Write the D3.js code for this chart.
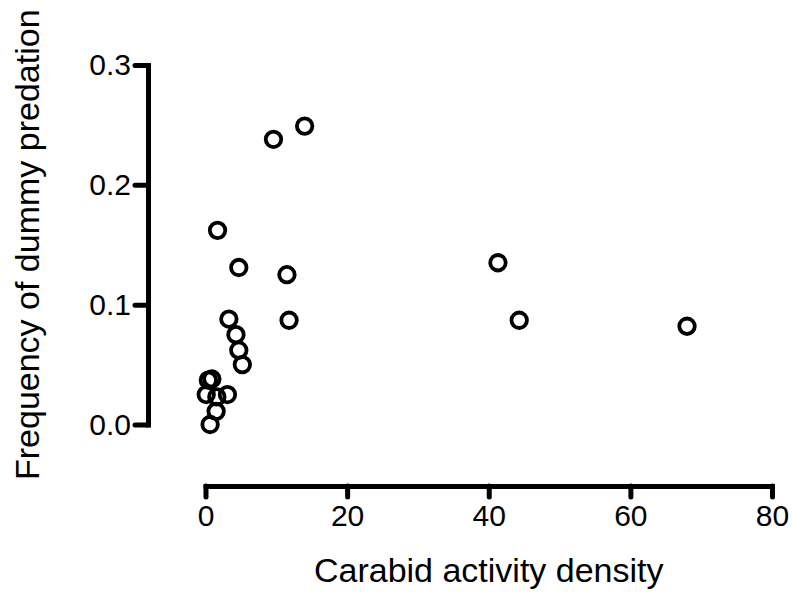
<!DOCTYPE html>
<html>
<head>
<meta charset="utf-8">
<script src="https://cdn.jsdelivr.net/npm/d3@7"></script>
<style>
  body { margin: 0; background: #fff; }
  text { font-family: "Liberation Sans", Arial, sans-serif; fill: #000; }
</style>
</head>
<body>
<div id="chart"></div>
<script>
// data
carabid = [9.6, 14.0, 1.7, 4.7, 11.5, 11.8, 3.3, 4.3, 4.7, 5.2, 0.4, 0.9, 0.1, 1.6, 3.1, 1.5, 0.65, 41.3, 44.3, 68.0];
predation = [0.238, 0.249, 0.162, 0.131, 0.125, 0.087, 0.088, 0.075, 0.062, 0.050, 0.037, 0.038, 0.025, 0.023, 0.025, 0.011, 0.0, 0.135, 0.087, 0.082];
x_ticks = [0, 20, 40, 60, 80];
y_ticks = [0.0, 0.1, 0.2, 0.3];

dataset = carabid.map((d, i) => ({ x: d, y: predation[i] }));

// chart settings
chart_width = 792;
chart_height = 593;
axis_width = 5;

// scales
x_scale = d3.scaleLinear()
	.domain([0, 80])
	.range([205.5, 772]);

y_scale = d3.scaleLinear()
	.domain([0, 0.3])
	.range([424.5, 65]);

var svg = d3.select('#chart')
	.append('svg')
	.attr('width', chart_width)
	.attr('height', chart_height);

// axes
var x_axis = d3.axisBottom(x_scale)
	.tickValues(x_ticks)
	.tickFormat(d3.format('d'))
	.tickSize(11)
	.tickSizeOuter(0)
	.tickPadding(8);

var y_axis = d3.axisLeft(y_scale)
	.tickValues(y_ticks)
	.tickFormat(d3.format('.1f'))
	.tickSize(13)
	.tickSizeOuter(0)
	.tickPadding(4);

var gx = svg.append('g')
	.attr('transform', 'translate(0,486)')
	.call(x_axis);

var gy = svg.append('g')
	.attr('transform', 'translate(148,0)')
	.call(y_axis);

[gx, gy].forEach((g) => {
	g.select('.domain')
		.attr('stroke', '#000')
		.attr('stroke-width', axis_width)
		.attr('stroke-linecap', 'square');
	g.selectAll('.tick line')
		.attr('stroke', '#000')
		.attr('stroke-width', axis_width)
		.attr('stroke-linecap', 'round');
	g.selectAll('.tick text')
		.attr('font-size', 30)
		.attr('font-family', '"Liberation Sans", Arial, sans-serif')
		.attr('fill', '#000');
});

// axis titles
svg.append('text')
	.attr('x', (x_scale(0) + x_scale(80)) / 2)
	.attr('y', 582)
	.attr('text-anchor', 'middle')
	.attr('font-size', 34)
	.text('Carabid activity density');

svg.append('text')
	.attr('transform', 'translate(39,' + (y_scale(0) + y_scale(0.3)) / 2 + ') rotate(-90)')
	.attr('text-anchor', 'middle')
	.attr('font-size', 34)
	.text('Frequency of dummy predation');

// points
svg.append('g')
	.selectAll('circle')
	.data(dataset)
	.enter()
	.append('circle')
	.attr('cx', (d) => x_scale(d.x))
	.attr('cy', (d) => y_scale(d.y))
	.attr('r', 7.75)
	.attr('fill', 'none')
	.attr('stroke', '#000')
	.attr('stroke-width', 3.8);
</script>
</body>
</html>
